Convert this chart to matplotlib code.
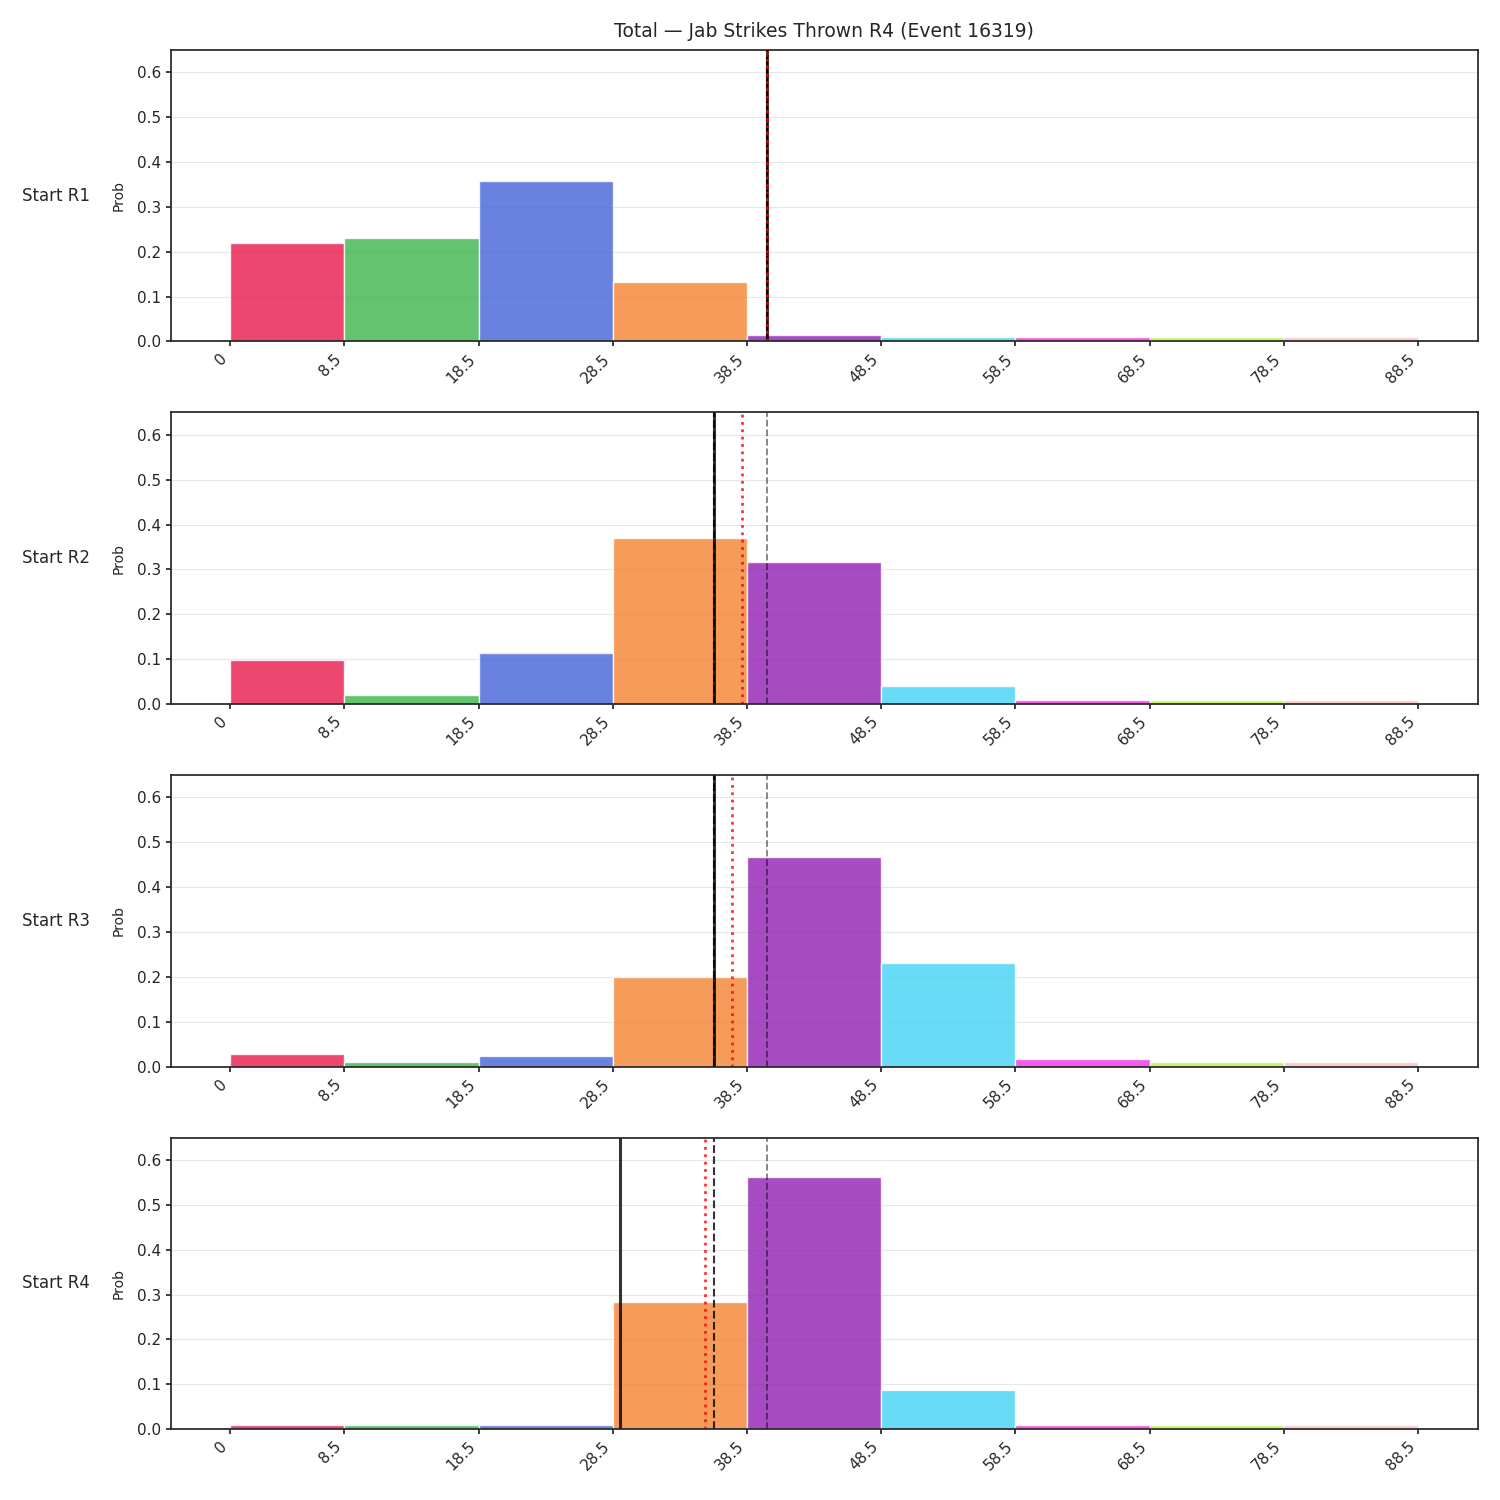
import matplotlib.pyplot as plt
import numpy as np

plt.rcParams['axes.linewidth'] = 1.25
plt.rcParams['axes.edgecolor'] = '#262626'
plt.rcParams['xtick.major.width'] = 1.25
plt.rcParams['ytick.major.width'] = 1.25
plt.rcParams['xtick.color'] = '#262626'
plt.rcParams['ytick.color'] = '#262626'
plt.rcParams['xtick.labelsize'] = 11
plt.rcParams['ytick.labelsize'] = 11
plt.rcParams['text.color'] = '#262626'
plt.rcParams['axes.labelcolor'] = '#262626'

# bin edges and colours
edges = [0, 8.5, 18.5, 28.5, 38.5, 48.5, 58.5, 68.5, 78.5, 88.5]
colors = ['#e6194b', '#3cb44b', '#4363d8', '#f58231', '#911eb4',
          '#42d4f4', '#f032e6', '#bfef45', '#fabebe']

rows = ['Start R1', 'Start R2', 'Start R3', 'Start R4']

# probability per bin for each starting round
probs_r1 = [0.219, 0.230, 0.357, 0.132, 0.014, 0.011, 0.011, 0.011, 0.011]
probs_r2 = [0.097, 0.021, 0.113, 0.371, 0.316, 0.041, 0.009, 0.008, 0.008]
probs_r3 = [0.028, 0.010, 0.023, 0.200, 0.467, 0.230, 0.017, 0.010, 0.010]
probs_r4 = [0.009, 0.009, 0.009, 0.284, 0.563, 0.086, 0.009, 0.009, 0.009]
probs = [probs_r1, probs_r2, probs_r3, probs_r4]

line_value = 40.0
actual = [40.0, 36.05, 36.05, 29.05]          # solid black
mean_pred = [40.0, 38.1, 37.4, 35.35]         # red dotted
prev_actual = [40.0, 36.05, 36.05, 36.05]     # dark dashed

fig, axes = plt.subplots(4, 1, figsize=(15, 15), dpi=100)
plt.subplots_adjust(left=0.114, right=0.985, top=0.9667, bottom=0.0473, hspace=0.2436)

left = np.array(edges[:-1])
widths = np.diff(edges)

for i, ax in enumerate(axes):
    ax.bar(left, probs[i], width=widths, align='edge', color=colors,
           alpha=0.8, edgecolor='white', linewidth=1)
    ax.axvline(line_value, color='black', linestyle='--', linewidth=1.3, alpha=0.5)
    ax.axvline(prev_actual[i], color='black', linestyle='--', linewidth=1.5, alpha=0.8)
    ax.axvline(actual[i], color='black', linewidth=2.2, alpha=0.8)
    ax.axvline(mean_pred[i], color='red', linestyle=':', linewidth=2, alpha=0.8)

    ax.set_ylim(0, 0.65)
    ax.set_xticks(edges)
    ax.set_xticklabels(['0'] + [str(e) for e in edges[1:]], rotation=45, ha='right')
    ax.set_ylabel('Prob', fontsize=10, labelpad=8)
    ax.grid(axis='y', alpha=0.3)
    ax.set_axisbelow(True)

    pos = ax.get_position()
    fig.text(0.015, (pos.y0 + pos.y1) / 2, rows[i], ha='left', va='center', fontsize=12)

axes[0].set_title('Total — Jab Strikes Thrown R4 (Event 16319)', fontsize=13.5, pad=9)

plt.savefig('out.png')
